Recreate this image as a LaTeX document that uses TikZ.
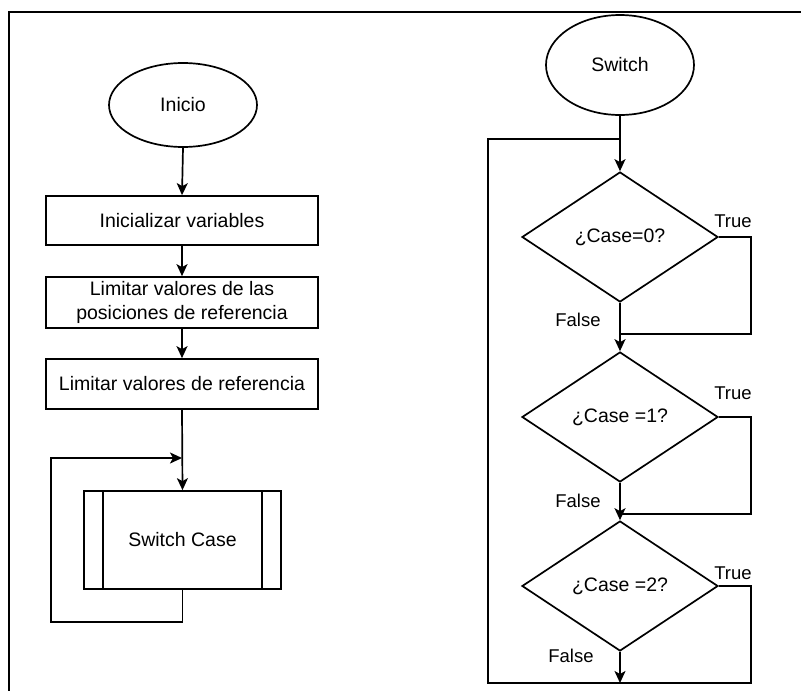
\documentclass[tikz,border=0pt]{standalone}
\usepackage{fontspec}
\setmainfont{Liberation Sans}
\usetikzlibrary{shapes.geometric,arrows.meta,calc}
\begin{document}
\begin{tikzpicture}[x=1pt,y=-1pt,
  line width=1.7pt,
  every node/.style={font=\fontsize{19.5}{22}\selectfont},
  term/.style={ellipse,draw,minimum width=148pt,inner sep=0pt},
  procbox/.style={rectangle,draw,minimum width=272pt,inner sep=0pt,align=center},
  decide/.style={diamond,draw,minimum width=196pt,minimum height=130pt,inner sep=0pt,shape aspect=1.5},
  lbl/.style={font=\fontsize{18.5}{20}\selectfont,inner sep=0pt},
  arr/.style={-{Stealth[length=12pt,width=11pt,inset=3pt]}}
]
\useasboundingbox (0,0) rectangle (801,691);
% frame
\draw[line width=2.6pt] (801,12) -- (9,12) -- (9,691);

% left column
\node[term,minimum height=84pt] (ini) at (183,105) {Inicio};
\node[procbox,minimum height=49pt] (r1) at (182,220.5) {Inicializar variables};
\node[procbox,minimum height=51pt,font=\fontsize{19.5}{24}\selectfont] (r2) at (182,302.5) {Limitar valores de las\\posiciones de referencia};
\node[procbox,minimum height=50pt] (r3) at (182,384) {Limitar valores de referencia};
\node[rectangle,draw,minimum width=197pt,minimum height=98pt,inner sep=0pt] (sc) at (182.5,540) {Switch Case};
\draw ($(sc.north west)+(20,0)$) -- ($(sc.south west)+(20,0)$);
\draw ($(sc.north east)+(-20,0)$) -- ($(sc.south east)+(-20,0)$);

\draw[arr] (ini.south) -- (r1.north);
\draw[arr] (r1.south) -- (r2.north);
\draw[arr] (r2.south) -- (r3.north);
\draw[arr] (r3.south) -- (sc.north);
\coordinate (j1) at (r3.south |- 0,458);
\coordinate (lb) at (sc.south |- 0,622);
\coordinate (ll) at (51,622);
\draw[arr] (sc.south) -- (lb) -- (ll) -- (ll |- j1) -- (j1);

% right column
\node[term,minimum height=100pt] (sw) at (620,65) {Switch};
\node[decide] (d1) at (620,237) {¿Case=0?};
\node[decide] (d2) at (620,417) {¿Case =1?};
\node[decide] (d3) at (620,586) {¿Case =2?};

\coordinate (j2) at (620,139);
\coordinate (bot) at (620,683);
\coordinate (bl) at (488,683);
\coordinate (br) at (751,683);

\draw[arr] (sw.south) -- (d1.north);
\draw[arr] (d1.south) -- (d2.north);
\draw[arr] (d2.south) -- (d3.north);
\draw[arr] (d3.south) -- (bot);

\coordinate (t1) at (620,334);
\coordinate (t2) at (620,514);
\draw (d1.east) -- (751,237) |- (t1);
\draw (d2.east) -- (751,417) |- (t2);
\draw (d3.east) -- (751,586) -- (br) -- (bl) -- (bl |- j2) -- (j2);

\node[lbl] (tr1) at (733,221) {True};
\node[lbl] (tr2) at (733,393) {True};
\node[lbl] (tr3) at (733,573) {True};
\node[lbl] (f1) at (578,320) {False};
\node[lbl] (f2) at (578,501) {False};
\node[lbl] (f3) at (571,656) {False};
\end{tikzpicture}
\end{document}
